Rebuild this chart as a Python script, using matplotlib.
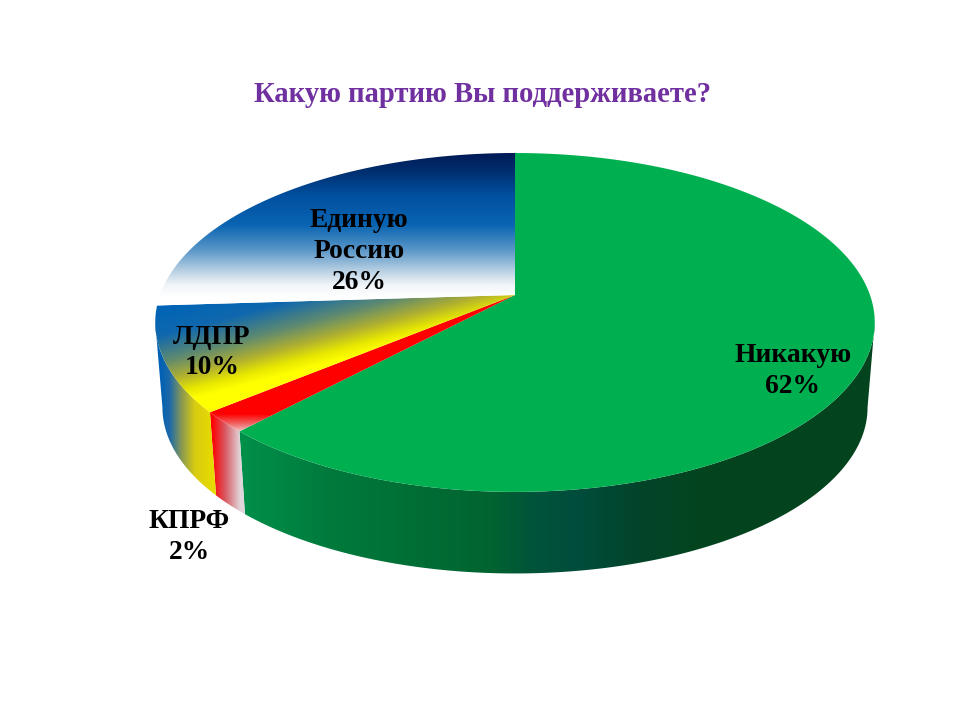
import numpy as np
import matplotlib
matplotlib.use('Agg')
import matplotlib.pyplot as plt
from matplotlib.colors import to_rgb
from matplotlib.patches import Polygon

# Chart data
title = 'Какую партию Вы поддерживаете?'
parties = ['Никакую', 'КПРФ', 'ЛДПР', 'Единую\nРоссию']
shares = [62, 2, 10, 26]

# Layout of the tilted pie, in pixels
APEX_X, APEX_Y = 515, 295
FLOOR_Y = 380.5
FLOOR_SCALE = 0.98
RADIUS = 355
TILT_A = 165
TILT_K = 0.162

label_xy = [(793, 371), (189, 537), (212, 352.5), (359, 251.5)]
label_size = 19.8


def project(theta, y0=APEX_Y, scale=1.0):
    # theta in degrees, clockwise from 12 o'clock
    t = np.radians(theta)
    w = 1 + TILT_K * np.cos(t)
    return APEX_X + scale * RADIUS * np.sin(t) / w, y0 - scale * TILT_A * np.cos(t) / w


def top_outline(a, b):
    x, y = project(np.linspace(a, b, 200))
    return np.column_stack([np.r_[APEX_X, x], np.r_[APEX_Y, y]])


def wall_outline(a, b):
    th = np.linspace(a, b, 200)
    x1, y1 = project(th)
    x2, y2 = project(th[::-1], FLOOR_Y, FLOOR_SCALE)
    return np.column_stack([np.r_[x1, x2], np.r_[y1, y2]])


def fill_gradient(ax, outline, t, stops, zorder):
    pos = [s[0] for s in stops]
    cols = np.array([to_rgb(s[1]) for s in stops])
    img = np.dstack([np.interp(t, pos, cols[:, i]) for i in range(3)])
    im = ax.imshow(img, extent=(0, 960, 720, 0), aspect='auto',
                   interpolation='bilinear', zorder=zorder)
    im.set_clip_path(Polygon(outline, closed=True, transform=ax.transData))


fig = plt.figure(figsize=(9.6, 7.2), dpi=100, facecolor='white')
ax = fig.add_axes([0, 0, 1, 1])
ax.axis('off')

xx, yy = np.meshgrid(np.arange(960) + 0.5, np.arange(720) + 0.5)
# yellow slice fades along a slightly tilted direction
diag = xx * 0.258 + yy * 0.966

wall_stops = [
    [(240, '#00904a'), (330, '#007a3c'), (490, '#006430'), (530, '#00553a'),
     (575, '#004d3c'), (640, '#03442a'), (700, '#03441f'), (880, '#03441f')],
    [(212, '#ff0000'), (225, '#d85860'), (240, '#e0d4d8'), (246, '#e0d8e0')],
    [(160, '#0060b4'), (170, '#1f6aa8'), (182, '#8c9a50'), (195, '#d8cc10'), (215, '#e8dc00')],
]
top_stops = [
    (yy, [(0, '#00b050'), (720, '#00b050')]),
    (yy, [(414, '#ff0000'), (424, '#f06a6a'), (435, '#f4f0f0')]),
    (diag, [(340, '#0064b6'), (366, '#1068ae'), (391, '#5f8a70'), (410, '#b0b030'),
            (425, '#e8e800'), (435, '#ffff00')]),
    (yy, [(153, '#001a55'), (172, '#002f70'), (195, '#00509f'), (225, '#0a64b2'),
          (250, '#5a96c8'), (270, '#b4cee2'), (285, '#f2f5f8'), (297, '#ffffff')]),
]

edges = np.r_[0, np.cumsum(shares)] * 3.6
back = np.degrees(np.arccos(-TILT_K))

# side walls first, the top hides whatever runs behind it
for i, stops in enumerate(wall_stops):
    a = max(edges[i], back)
    b = min(edges[i + 1], 360 - back)
    fill_gradient(ax, wall_outline(a, b), xx, stops, 1)

for i, (t, stops) in enumerate(top_stops):
    fill_gradient(ax, top_outline(edges[i], edges[i + 1]), t, stops, 2 + i * 0.1)

for name, share, (x, y) in zip(parties, shares, label_xy):
    ax.text(x, y, f'{name}\n{share}%', ha='center', va='center', ma='center', color='black',
            family='Liberation Serif', fontweight='bold', fontsize=label_size,
            linespacing=1.3, zorder=5)

ax.text(482.5, 95, title, ha='center', va='center', color='#7030a0',
        family='Liberation Serif', fontweight='bold', fontsize=20.6, zorder=5)

ax.set_xlim(0, 960)
ax.set_ylim(720, 0)
fig.savefig('out.png', dpi=100, facecolor='white')
